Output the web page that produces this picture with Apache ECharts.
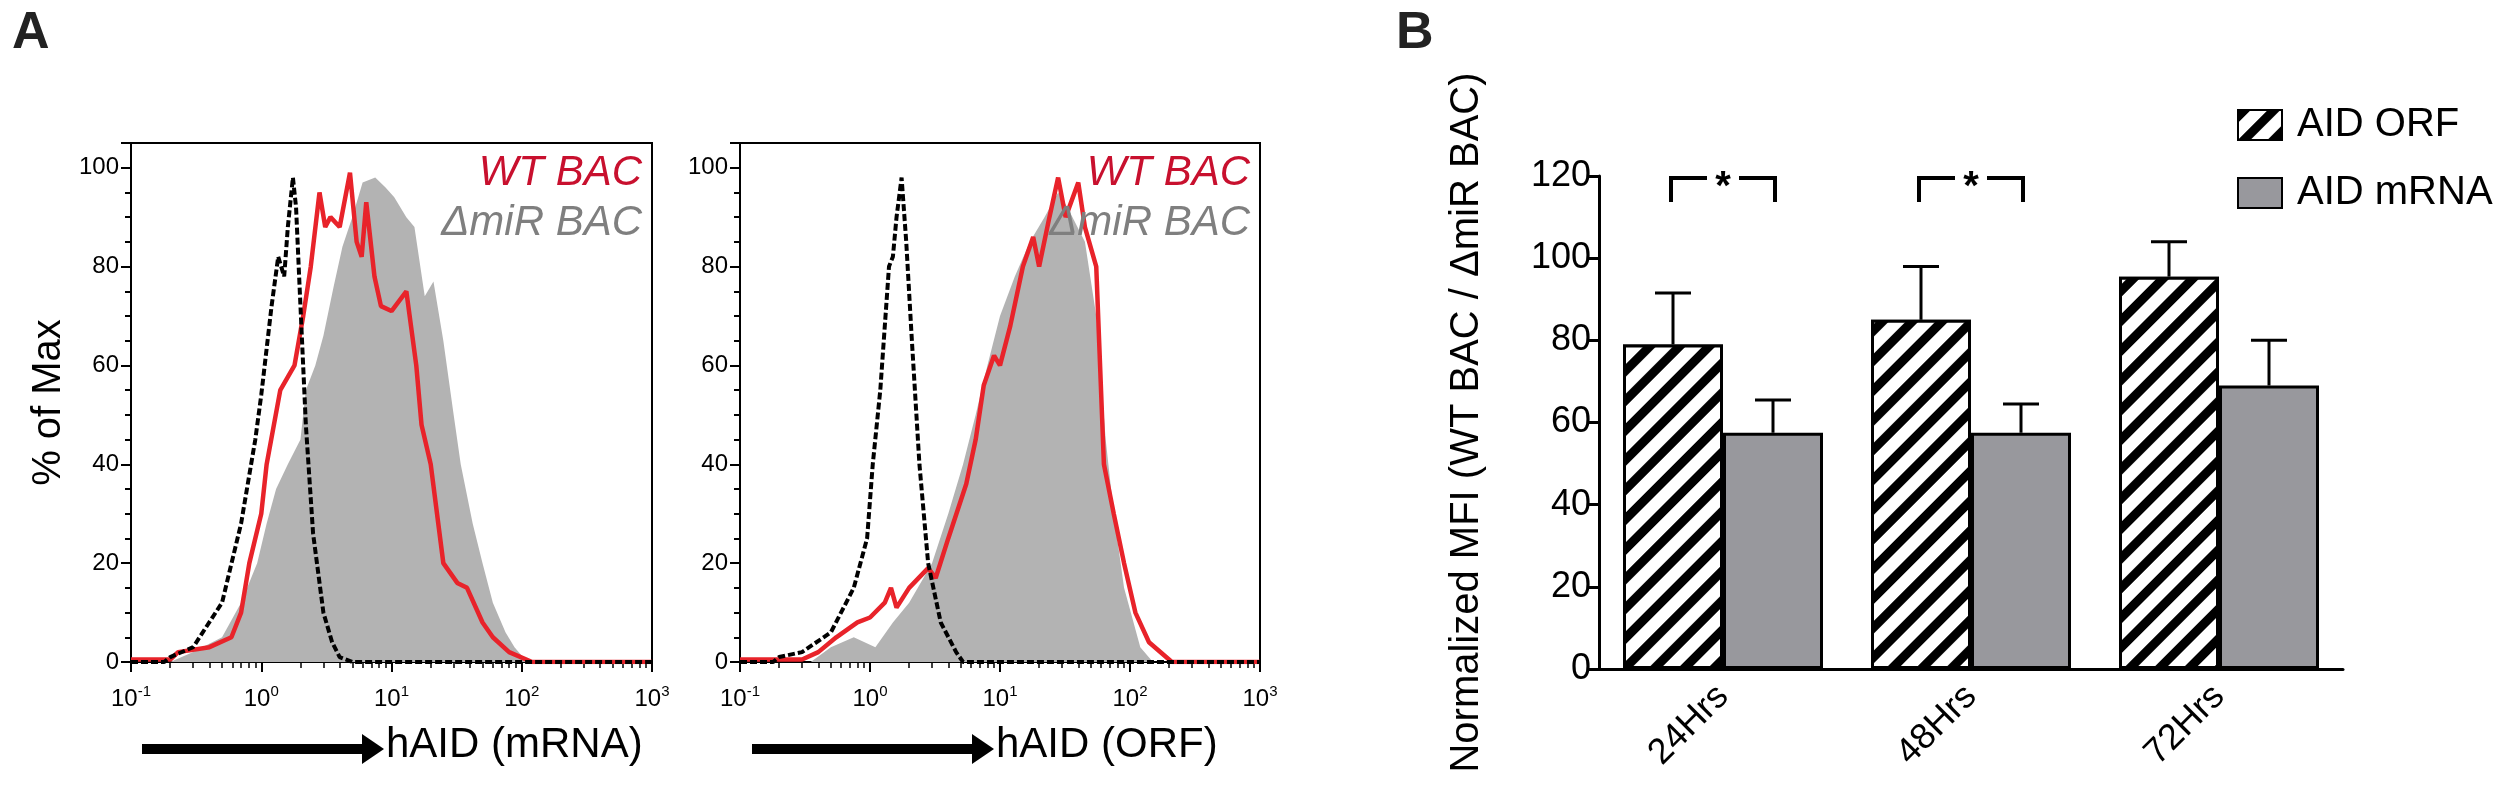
<!DOCTYPE html>
<html>
<head>
<meta charset="utf-8">
<script src="https://cdn.jsdelivr.net/npm/echarts@6/dist/echarts.min.js"></script>
<style>
  html, body { margin: 0; padding: 0; background: #fff; }
  #chart { width: 2504px; height: 800px; }
</style>
</head>
<body>
<div id="chart"></div>
<script>
// --- panel A: flow histograms, [intensity, % of max] ---
const mrnaIsotype = [[0.1,0],[0.18,0],[0.2,1],[0.3,3],[0.5,12],[0.7,28],[0.9,45],[1.0,54],[1.2,72],[1.35,82],[1.5,78],[1.6,88],[1.75,98],[1.85,92],[2.0,72],[2.2,48],[2.5,26],[3.0,10],[3.5,4],[4.0,1],[5.0,0],[1000,0]];
const mrnaWT = [[0.1,0.5],[0.2,0.5],[0.23,2],[0.4,3],[0.59,5],[0.7,10],[0.81,20],[1.0,30],[1.1,40],[1.4,55],[1.8,60],[2.1,70],[2.4,80],[2.8,95],[3.1,88],[3.4,90],[4.0,88],[4.8,99],[5.4,85],[5.9,82],[6.4,93],[7.4,78],[8.3,72],[10,71],[13,75],[15.5,60],[17,48],[20,40],[25,20],[32,16],[38,15],[50,8],[60,5],[80,2],[120,0],[1000,0]];
const mrnaDelta = [[0.1,0],[0.2,0],[0.3,2],[0.5,5],[0.7,12],[0.93,20],[1.1,28],[1.3,35],[1.6,40],[2.0,45],[2.2,55],[2.6,60],[3.0,66],[3.6,76],[4.2,84],[5.0,90],[6.0,97],[7.5,98],[9.0,96],[10.5,94],[13,90],[15,88],[18,74],[21,77],[25,65],[30,50],[34,40],[42,28],[50,20],[60,12],[75,6],[88,3],[110,0],[1000,0]];
const orfIsotype = [[0.1,0],[0.18,0],[0.2,1],[0.3,2],[0.5,6],[0.75,15],[0.95,25],[1.05,40],[1.2,55],[1.4,80],[1.5,82],[1.6,90],[1.75,98],[1.9,85],[2.1,65],[2.4,40],[2.8,20],[3.5,8],[4.6,2],[5.2,0],[1000,0]];
const orfWT = [[0.1,0.5],[0.3,0.5],[0.4,2],[0.55,5],[0.8,8],[1.0,9],[1.3,12],[1.45,15],[1.6,11],[2.0,15],[2.8,19],[3.2,17],[4.0,25],[5.5,36],[6.5,45],[7.5,56],[9,62],[10,60],[12,68],[15,80],[18,86],[20,80],[24,90],[28,98],[32,90],[40,97],[45,88],[55,80],[63,40],[75,30],[90,20],[110,10],[140,4],[210,0],[1000,0]];
const orfDelta = [[0.1,0],[0.35,0],[0.5,3],[0.75,5],[1.1,3],[1.5,8],[2.0,12],[3.0,20],[4.0,30],[5.2,40],[6.5,50],[8,60],[10,70],[13,78],[17,85],[22,90],[28,95],[33,92],[45,85],[55,70],[65,45],[75,30],[90,15],[120,3],[150,0],[1000,0]];
const yTicksA = [0, 20, 40, 60, 80, 100];

// --- panel B: normalized MFI ---
const timepoints = ['24Hrs', '48Hrs', '72Hrs'];
const orfMean = [79, 85, 95.5];
const orfErr = [12.5, 13, 8.5];
const mrnaMean = [57.5, 57.5, 69];
const mrnaErr = [8, 7, 11];
const sigPairs = [[0, 119.5, '*'], [1, 119.5, '*']];

const FONT = 'Liberation Sans';
const NARROW = 'Liberation Sans Narrow, Liberation Sans';
const chart = echarts.init(document.getElementById('chart'));

function histAxes(gridIndex) {
  return {
    x: {
      type: 'log', gridIndex, min: 0.1, max: 1000, logBase: 10,
      axisLine: { lineStyle: { color: '#000', width: 2 } },
      axisTick: { show: true, length: 10, lineStyle: { color: '#000', width: 2 } },
      minorTick: { show: true, splitNumber: 9, length: 6, lineStyle: { color: '#000', width: 1.5 } },
      splitLine: { show: false },
      axisLabel: {
        margin: 22, fontFamily: NARROW,
        formatter: v => '{b|10}{s|' + Math.round(Math.log10(v)) + '}',
        rich: { b: { fontSize: 24, fontFamily: NARROW, color: '#000' }, s: { fontSize: 15, fontFamily: NARROW, color: '#000', verticalAlign: 'top', padding: [0, 0, 16, 0] } }
      }
    },
    y: {
      type: 'value', gridIndex, min: 0, max: 105, interval: 20,
      axisLine: { show: true, lineStyle: { color: '#000', width: 2 } },
      axisTick: { show: true, length: 10, lineStyle: { color: '#000', width: 2 } },
      minorTick: { show: true, splitNumber: 4, length: 6, lineStyle: { color: '#000', width: 2 } },
      splitLine: { show: false },
      axisLabel: { fontSize: 24, fontFamily: NARROW, color: '#000', showMaxLabel: false, margin: 12,
        formatter: v => yTicksA.includes(v) ? String(v) : '' }
    }
  };
}
const hL = histAxes(0), hR = histAxes(1);
hL.y.name = '% of Max';
hL.y.nameLocation = 'middle';
hL.y.nameGap = 62;
hL.y.nameTextStyle = { fontSize: 40, fontFamily: FONT, color: '#000' };

function histSeries(idx, iso, wt, delta) {
  return [
    { type: 'line', xAxisIndex: idx, yAxisIndex: idx, data: delta, showSymbol: false,
      lineStyle: { width: 0 }, areaStyle: { color: '#b3b3b3', opacity: 1 }, z: 1 },
    { type: 'line', xAxisIndex: idx, yAxisIndex: idx, data: iso, showSymbol: false,
      lineStyle: { color: '#000', width: 4, type: [7, 3] }, z: 3 },
    { type: 'line', xAxisIndex: idx, yAxisIndex: idx, data: wt, showSymbol: false,
      lineStyle: { color: '#e8232a', width: 4.5 }, z: 2 }
  ];
}

const hatch = {
  symbol: 'rect', symbolSize: 1, dashArrayX: [[1, 0]], dashArrayY: [9, 12],
  rotation: -Math.PI / 4, color: '#000', backgroundColor: '#fff'
};

function errorSeries(name, means, errs, offset) {
  return {
    type: 'custom', name: name + ' err', xAxisIndex: 2, yAxisIndex: 2, z: 1,
    data: means.map((m, i) => [i, m, m + errs[i]]),
    renderItem: (params, api) => {
      const b = api.coord([api.value(0), api.value(1)]);
      const t = api.coord([api.value(0), api.value(2)]);
      const x = b[0] + offset;
      return { type: 'group', children: [
        { type: 'line', shape: { x1: x, y1: b[1], x2: x, y2: t[1] }, style: { stroke: '#000', lineWidth: 3 } },
        { type: 'line', shape: { x1: x - 18, y1: t[1], x2: x + 18, y2: t[1] }, style: { stroke: '#000', lineWidth: 3 } }
      ] };
    }
  };
}

const label = (right, top, text, fill) => ({ type: 'text', z: 100, right, top,
  style: { text, fontSize: 42, fontStyle: 'italic', fontFamily: NARROW, fill, align: 'right' } });

chart.setOption({
  animation: false,
  backgroundColor: '#fff',
  grid: [
    { left: 131, width: 521, top: 143, bottom: 138, show: true, borderColor: '#000', borderWidth: 2 },
    { left: 740, width: 520, top: 143, bottom: 138, show: true, borderColor: '#000', borderWidth: 2 },
    { left: 1599, right: 161, top: 176, bottom: 131 }
  ],
  legend: {
    data: ['AID ORF', 'AID mRNA'], orient: 'vertical', left: 2232, top: 100,
    itemWidth: 44, itemHeight: 30, itemGap: 28, icon: 'rect',
    textStyle: { fontSize: 40, fontFamily: FONT, color: '#000', padding: [0, 0, 0, 10] }
  },
  xAxis: [hL.x, hR.x, {
    type: 'category', gridIndex: 2, data: timepoints,
    axisLine: { lineStyle: { color: '#000', width: 3 } },
    axisTick: { alignWithLabel: true, length: 14, lineStyle: { color: '#000', width: 3 } },
    axisLabel: { rotate: 45, fontSize: 36, fontFamily: FONT, color: '#000', margin: 22 }
  }],
  yAxis: [hL.y, hR.y, {
    type: 'value', gridIndex: 2, min: 0, max: 120, interval: 20,
    name: 'Normalized MFI (WT BAC / \u0394miR BAC)', nameLocation: 'middle', nameGap: 112,
    nameTextStyle: { fontSize: 40, fontFamily: FONT, color: '#000' },
    axisLine: { show: true, lineStyle: { color: '#000', width: 3 } },
    axisTick: { show: true, length: 10, lineStyle: { color: '#000', width: 3 } },
    splitLine: { show: false },
    axisLabel: { fontSize: 36, fontFamily: FONT, color: '#000', margin: 8 }
  }],
  series: [
    ...histSeries(0, mrnaIsotype, mrnaWT, mrnaDelta),
    ...histSeries(1, orfIsotype, orfWT, orfDelta),
    { type: 'bar', name: 'AID ORF', xAxisIndex: 2, yAxisIndex: 2, data: orfMean, barWidth: 100, barGap: 0, z: 2,
      itemStyle: { color: '#fff', borderColor: '#000', borderWidth: 3, decal: hatch } },
    { type: 'bar', name: 'AID mRNA', xAxisIndex: 2, yAxisIndex: 2, data: mrnaMean, barWidth: 100, z: 2,
      itemStyle: { color: '#98989d', borderColor: '#000', borderWidth: 3 } },
    errorSeries('AID ORF', orfMean, orfErr, -50),
    errorSeries('AID mRNA', mrnaMean, mrnaErr, 50),
    { type: 'custom', xAxisIndex: 2, yAxisIndex: 2, z: 3, data: sigPairs,
      renderItem: (params, api) => {
        const p = api.coord([api.value(0), api.value(1)]);
        const x1 = p[0] - 52, x2 = p[0] + 52, y = p[1], y2 = y + 24;
        return { type: 'group', children: [
          { type: 'polyline', shape: { points: [[x1, y2], [x1, y], [p[0] - 16, y]] }, style: { stroke: '#000', lineWidth: 4, fill: null } },
          { type: 'polyline', shape: { points: [[p[0] + 16, y], [x2, y], [x2, y2]] }, style: { stroke: '#000', lineWidth: 4, fill: null } },
          { type: 'text', x: p[0], y: y + 10, style: { text: sigPairs[params.dataIndex][2], fontSize: 40, fontWeight: 'bold', fontFamily: FONT, fill: '#000', align: 'center', verticalAlign: 'middle' } }
        ] };
      }
    }
  ],
  graphic: [
    { type: 'text', left: 12, top: 8, style: { text: 'A', fontSize: 52, fontWeight: 'bold', fontFamily: FONT, fill: '#222' } },
    { type: 'text', left: 1396, top: 8, style: { text: 'B', fontSize: 52, fontWeight: 'bold', fontFamily: FONT, fill: '#222' } },
    label(2504 - 642, 152, 'WT BAC', '#c8102e'),
    label(2504 - 642, 202, '\u0394miR BAC', '#7f7f7f'),
    label(2504 - 1250, 152, 'WT BAC', '#c8102e'),
    label(2504 - 1250, 202, '\u0394miR BAC', '#7f7f7f'),
    { type: 'line', shape: { x1: 142, y1: 749, x2: 366, y2: 749 }, style: { stroke: '#000', lineWidth: 10 } },
    { type: 'polygon', shape: { points: [[362, 734], [384, 749], [362, 764]] }, style: { fill: '#000' } },
    { type: 'text', left: 386, top: 724, style: { text: 'hAID (mRNA)', fontSize: 42, fontFamily: NARROW, fill: '#000' } },
    { type: 'line', shape: { x1: 752, y1: 749, x2: 976, y2: 749 }, style: { stroke: '#000', lineWidth: 10 } },
    { type: 'polygon', shape: { points: [[972, 734], [994, 749], [972, 764]] }, style: { fill: '#000' } },
    { type: 'text', left: 996, top: 724, style: { text: 'hAID (ORF)', fontSize: 42, fontFamily: NARROW, fill: '#000' } }
  ]
});
</script>
</body>
</html>
